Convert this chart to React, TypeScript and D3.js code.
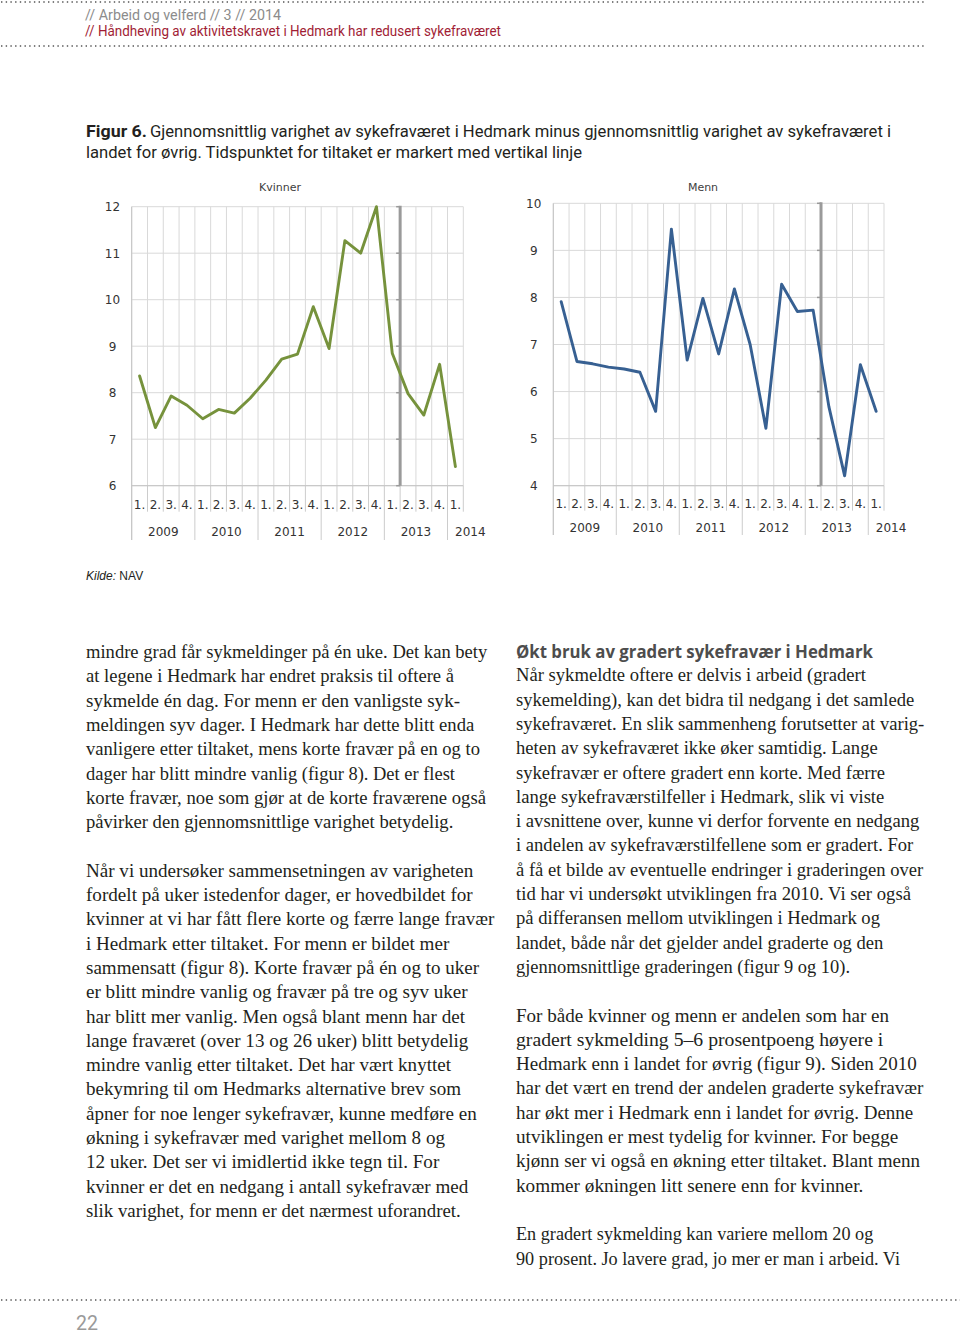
import React from "react";
import * as d3 from "d3";

// ---------- chart data ----------
const quarters = ["1.", "2.", "3.", "4.", "1.", "2.", "3.", "4.", "1.", "2.", "3.", "4.", "1.", "2.", "3.", "4.", "1.", "2.", "3.", "4.", "1."];
const years = ["2009", "2010", "2011", "2012", "2013", "2014"];
const kvinnerValues = [8.36, 7.25, 7.93, 7.73, 7.44, 7.64, 7.56, 7.88, 8.27, 8.72, 8.83, 9.85, 8.95, 11.27, 11.0, 12.0, 8.85, 7.98, 7.52, 8.61, 6.41];
const mennValues = [7.91, 6.64, 6.59, 6.52, 6.48, 6.41, 5.58, 9.45, 6.67, 7.98, 6.8, 8.18, 7.0, 5.22, 8.28, 7.7, 7.73, 5.68, 4.21, 6.57, 5.58];
const kvinnerTicks = [6, 7, 8, 9, 10, 11, 12];
const mennTicks = [4, 5, 6, 7, 8, 9, 10];
const interventionIndex = 17; // line drawn before 2013 Q2

// ---------- page text ----------
const headerLine1 = "// Arbeid og velferd  // 3  // 2014";
const headerLine2 = "// Håndheving av aktivitetskravet i Hedmark har redusert sykefraværet";
const figLabel = "Figur 6.";
const figTitle1 = "Gjennomsnittlig varighet av sykefraværet i Hedmark minus gjennomsnittlig varighet av sykefraværet i";
const figTitle2 = "landet for øvrig. Tidspunktet for tiltaket er markert med vertikal linje";

const leftPara1 = [
  "mindre grad får sykmeldinger på én uke. Det kan bety",
  "at legene i Hedmark har endret praksis til oftere å",
  "sykmelde én dag. For menn er den vanligste syk-",
  "meldingen syv dager. I Hedmark har dette blitt enda",
  "vanligere etter tiltaket, mens korte fravær på en og to",
  "dager har blitt mindre vanlig (figur 8). Det er flest",
  "korte fravær, noe som gjør at de korte fraværene også",
  "påvirker den gjennomsnittlige varighet betydelig.",
];
const leftPara2 = [
  "Når vi undersøker sammensetningen av varigheten",
  "fordelt på uker istedenfor dager, er hovedbildet for",
  "kvinner at vi har fått flere korte og færre lange fravær",
  "i Hedmark etter tiltaket. For menn er bildet mer",
  "sammensatt (figur 8). Korte fravær på én og to uker",
  "er blitt mindre vanlig og fravær på tre og syv uker",
  "har blitt mer vanlig. Men også blant menn har det",
  "lange fraværet (over 13 og 26 uker) blitt betydelig",
  "mindre vanlig etter tiltaket. Det har vært knyttet",
  "bekymring til om Hedmarks alternative brev som",
  "åpner for noe lenger sykefravær, kunne medføre en",
  "økning i sykefravær med varighet mellom 8 og",
  "12 uker. Det ser vi imidlertid ikke tegn til. For",
  "kvinner er det en nedgang i antall sykefravær med",
  "slik varighet, for menn er det nærmest uforandret.",
];
const rightHeading = "Økt bruk av gradert sykefravær i Hedmark";
const rightPara1 = [
  "Når sykmeldte oftere er delvis i arbeid (gradert",
  "sykemelding), kan det bidra til nedgang i det samlede",
  "sykefraværet. En slik sammenheng forutsetter at varig-",
  "heten av sykefraværet ikke øker samtidig. Lange",
  "sykefravær er oftere gradert enn korte. Med færre",
  "lange sykefraværstilfeller i Hedmark, slik vi viste",
  "i avsnittene over, kunne vi derfor forvente en nedgang",
  "i andelen av sykefraværstilfellene som er gradert. For",
  "å få et bilde av eventuelle endringer i graderingen over",
  "tid har vi undersøkt utviklingen fra 2010. Vi ser også",
  "på differansen mellom utviklingen i Hedmark og",
  "landet, både når det gjelder andel graderte og den",
  "gjennomsnittlige graderingen (figur 9 og 10).",
];
const rightPara2 = [
  "For både kvinner og menn er andelen som har en",
  "gradert sykmelding 5–6 prosentpoeng høyere i",
  "Hedmark enn i landet for øvrig (figur 9). Siden 2010",
  "har det vært en trend der andelen graderte sykefravær",
  "har økt mer i Hedmark enn i landet for øvrig. Denne",
  "utviklingen er mest tydelig for kvinner. For begge",
  "kjønn ser vi også en økning etter tiltaket. Blant menn",
  "kommer økningen litt senere enn for kvinner.",
];
const rightPara3 = [
  "En gradert sykmelding kan variere mellom 20 og",
  "90 prosent. Jo lavere grad, jo mer er man i arbeid. Vi",
];

// ---------- layout (kept apart from data) ----------
const leftEnds1 = [487.3, 454, 460, 474.3, 480, 455, 486, 453.3];
const leftEnds2 = [473.3, 472.7, 494.3, 449.3, 479, 467.7, 465, 468.3, 451, 461, 476.7, 445, 439.3, 468.3, 460.7];
const rightEnds1 = [866, 914.3, 924.3, 877.7, 885, 884.3, 919.3, 913.3, 923.3, 911, 880, 883.3, 850];
const rightEnds2 = [889, 883.3, 916.7, 923.3, 913.3, 898.3, 920, 863.3];
const rightEnds3 = [873.3, 900];

const AXIS_FONT = "'DejaVu Sans', Verdana, sans-serif";
const SERIF = "'Liberation Serif', 'Times New Roman', serif";
const SANS = "'Liberation Sans Narrow', 'Roboto', 'Open Sans', sans-serif";

type ChartProps = {
  title: string;
  titleX: number;
  titleY: number;
  values: number[];
  ticks: number[];
  color: string;
  left: number;
  right: number;
  top: number;
  bottom: number;
  labelX: number;
  qRowBottom: number;
  qBase: number;
  yRowBottom: number;
  yBase: number;
};

function Chart(p: ChartProps) {
  const idx = quarters.map((_, i) => i);
  const x = d3.scaleBand<number>().domain(idx).range([p.left, p.right]).padding(0);
  const bw = x.bandwidth();
  const y = d3.scaleLinear().domain(d3.extent(p.ticks) as [number, number]).range([p.bottom, p.top]);
  const line = d3
    .line<number>()
    .x((_, i) => (x(i) as number) + bw / 2)
    .y((d) => y(d));

  // year groups: each "1." starts a new year
  const groups: { start: number; end: number }[] = [];
  quarters.forEach((q, i) => {
    if (q === "1.") groups.push({ start: i, end: i });
    else groups[groups.length - 1].end = i;
  });
  const yearStarts = new Set(groups.map((g) => g.start));

  const boundaries = d3.range(quarters.length + 1);
  const bx = (j: number) => p.left + j * bw;
  const markerX = bx(interventionIndex);

  return (
    <g>
      <text x={p.titleX} y={p.titleY} fontFamily={AXIS_FONT} fontSize={11} textAnchor="middle" fill="#404040">
        {p.title}
      </text>
      {/* horizontal gridlines */}
      {p.ticks.map((t) => (
        <line key={"h" + t} x1={p.left} x2={p.right} y1={y(t)} y2={y(t)} stroke="#d9d9d9" strokeWidth={1} />
      ))}
      {/* vertical gridlines */}
      {boundaries.map((j) => (
        <line key={"v" + j} x1={bx(j)} x2={bx(j)} y1={p.top} y2={p.bottom} stroke="#d9d9d9" strokeWidth={1} />
      ))}
      {/* category separators */}
      {boundaries.map((j) => {
        const isYear = yearStarts.has(j) || j === 0;
        const isEnd = j === quarters.length;
        return (
          <line
            key={"c" + j}
            x1={bx(j)}
            x2={bx(j)}
            y1={p.bottom}
            y2={isYear && !isEnd ? p.yRowBottom : p.qRowBottom}
            stroke="#cccccc"
            strokeWidth={1}
          />
        );
      })}
      <line x1={p.left} x2={p.left} y1={p.top} y2={p.yRowBottom} stroke="#c4c4c4" strokeWidth={1} />
      <line x1={p.left} x2={p.right} y1={p.bottom} y2={p.bottom} stroke="#c4c4c4" strokeWidth={1} />
      {/* y labels */}
      {p.ticks.map((t) => (
        <text key={"yl" + t} x={p.labelX} y={y(t) + 4.5} fontFamily={AXIS_FONT} fontSize={12} textAnchor="middle" fill="#333">
          {t}
        </text>
      ))}
      {/* quarter labels */}
      {quarters.map((q, i) => (
        <text key={"q" + i} x={(x(i) as number) + bw / 2} y={p.qBase} fontFamily={AXIS_FONT} fontSize={12} textAnchor="middle" fill="#333">
          {q}
        </text>
      ))}
      {/* year labels */}
      {groups.map((g, k) => {
        const single = g.start === g.end;
        const cx = single ? bx(g.start) + 7.5 : (bx(g.start) + bx(g.end + 1)) / 2;
        return (
          <text key={"yr" + k} x={cx} y={p.yBase} fontFamily={AXIS_FONT} fontSize={12} textAnchor={single ? "start" : "middle"} fill="#333">
            {years[k]}
          </text>
        );
      })}
      {/* intervention marker */}
      {p.ticks.map((t) => (
        <line key={"mt" + t} x1={markerX - 4} x2={markerX} y1={y(t)} y2={y(t)} stroke="#9a9a9a" strokeWidth={1.5} />
      ))}
      <line x1={markerX} x2={markerX} y1={p.top - 1} y2={p.bottom} stroke="#9a9a9a" strokeWidth={3} />
      {/* series */}
      <path d={line(p.values) || ""} fill="none" stroke={p.color} strokeWidth={2.9} strokeLinejoin="round" strokeLinecap="round" />
    </g>
  );
}

function Para({ lines, ends, x, y0, step }: { lines: string[]; ends: number[]; x: number; y0: number; step: number }) {
  return (
    <g>
      {lines.map((l, i) => (
        <text
          key={i}
          x={x}
          y={y0 + i * step}
          fontFamily={SERIF}
          fontSize={18.5}
          fill="#231f20"
          textLength={ends[i] - x}
          lengthAdjust="spacingAndGlyphs"
        >
          {l}
        </text>
      ))}
    </g>
  );
}

function Dots({ y, x2 }: { y: number; x2: number }) {
  return <line x1={1} x2={x2} y1={y} y2={y} stroke="#555" strokeWidth={1.6} strokeDasharray="1.4 3.3" />;
}

export default function App() {
  const step = 24.3;
  return (
    <svg width={960} height={1334} style={{ position: "absolute", left: 0, top: 0, background: "#fff" }}>
      <rect width={960} height={1334} fill="#fff" />
      <Dots y={2} x2={925} />
      <Dots y={46} x2={925} />
      <Dots y={1300} x2={960} />
      <text x={85} y={20} fontFamily={SANS} fontSize={14} fill="#8c8c8c" textLength={196} lengthAdjust="spacingAndGlyphs">
        {headerLine1}
      </text>
      <text x={85} y={36} fontFamily={SANS} fontSize={14} fill="#a11d35" textLength={416} lengthAdjust="spacingAndGlyphs">
        {headerLine2}
      </text>

      <text x={86} y={136.5} fontFamily={SANS} fontSize={16} fontWeight="bold" fill="#231f20" textLength={61} lengthAdjust="spacingAndGlyphs">
        {figLabel}
      </text>
      <text x={150} y={136.5} fontFamily={SANS} fontSize={16} fill="#231f20" textLength={741} lengthAdjust="spacingAndGlyphs">
        {figTitle1}
      </text>
      <text x={86} y={157.5} fontFamily={SANS} fontSize={16} fill="#231f20" textLength={496} lengthAdjust="spacingAndGlyphs">
        {figTitle2}
      </text>

      <Chart
        title="Kvinner"
        titleX={280}
        titleY={191}
        values={kvinnerValues}
        ticks={kvinnerTicks}
        color="#76923c"
        left={131.7}
        right={463.3}
        top={206.7}
        bottom={485.7}
        labelX={112.5}
        qRowBottom={511.7}
        qBase={508.5}
        yRowBottom={540}
        yBase={535.5}
      />
      <Chart
        title="Menn"
        titleX={703}
        titleY={191}
        values={mennValues}
        ticks={mennTicks}
        color="#376092"
        left={553.3}
        right={884}
        top={203.3}
        bottom={485.7}
        labelX={533.7}
        qRowBottom={510.7}
        qBase={507.5}
        yRowBottom={535}
        yBase={531.5}
      />

      <text x={86} y={580} fontFamily="'Liberation Sans', Arial, sans-serif" fontSize={12} fill="#231f20">
        <tspan fontStyle="italic">Kilde:</tspan>
        <tspan> NAV</tspan>
      </text>

      <Para lines={leftPara1} ends={leftEnds1} x={86} y0={658} step={step} />
      <Para lines={leftPara2} ends={leftEnds2} x={86} y0={658 + 9 * step} step={step} />

      <text x={516} y={657.5} fontFamily="'Open Sans', 'Roboto', sans-serif" fontSize={17.5} fontWeight="bold" fill="#4d4d4d" textLength={357} lengthAdjust="spacingAndGlyphs">
        {rightHeading}
      </text>
      <Para lines={rightPara1} ends={rightEnds1} x={516} y0={681.3} step={step} />
      <Para lines={rightPara2} ends={rightEnds2} x={516} y0={681.3 + 14 * step} step={step} />
      <Para lines={rightPara3} ends={rightEnds3} x={516} y0={681.3 + 23 * step} step={step} />

      <text x={76} y={1330} fontFamily={SANS} fontSize={20} fill="#9a9a9a" textLength={22} lengthAdjust="spacingAndGlyphs">
        22
      </text>
    </svg>
  );
}
